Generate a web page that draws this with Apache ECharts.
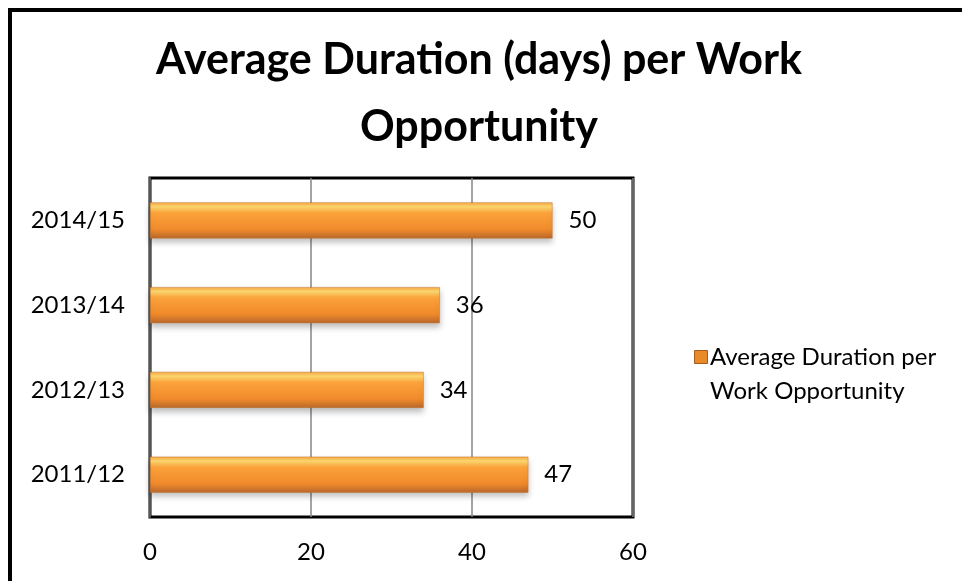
<!DOCTYPE html>
<html>
<head>
<meta charset="utf-8">
<script src="https://cdn.jsdelivr.net/npm/echarts@6/dist/echarts.min.js"></script>
<style>
  html, body { margin: 0; padding: 0; background: #fff; }
  #chart { width: 962px; height: 581px; }
</style>
</head>
<body>
<div id="chart"></div>
<script>
  // data
  var years = ['2011/12', '2012/13', '2013/14', '2014/15']
  var durations = [47, 34, 36, 50]
  var seriesName = 'Average Duration per Work Opportunity'
  var xTicks = [0, 20, 40, 60]

  var font = 'Lato'
  var chart = echarts.init(document.getElementById('chart'))

  var barColor = new echarts.graphic.LinearGradient(0, 0, 0, 1, [
    { offset: 0, color: '#f6a640' },
    { offset: 0.12, color: '#fdd870' },
    { offset: 0.3, color: '#fba23a' },
    { offset: 0.75, color: '#f08a2b' },
    { offset: 1, color: '#b9682c' }
  ])

  var option = {
    backgroundColor: '#fff',
    textStyle: { fontFamily: font },
    title: {
      text: 'Average Duration (days) per Work\nOpportunity',
      left: 474,
      top: 22,
      textAlign: 'center',
      textStyle: {
        fontFamily: font,
        fontWeight: 'bold',
        fontSize: 43,
        lineHeight: 67,
        color: '#000'
      }
    },
    graphic: [{
      // outer frame, runs off the right and bottom of the picture
      type: 'rect',
      shape: { x: 10, y: 10, width: 1000, height: 1000 },
      style: { fill: null, stroke: '#000', lineWidth: 4 },
      silent: true
    }],
    legend: [{
      // icon only, lined up with the first text line
      left: 689,
      top: 345,
      itemWidth: 13,
      itemHeight: 13,
      icon: 'rect',
      formatter: function () { return '' },
      data: [{ name: seriesName, itemStyle: { color: '#e98a2a', borderColor: '#a65a1e', borderWidth: 1 } }]
    }, {
      // text only, on two lines
      left: 700,
      top: 335,
      itemWidth: 0,
      itemHeight: 0,
      icon: 'none',
      formatter: function (name) {
        return name.replace(' per ', ' per\n')
      },
      textStyle: {
        fontFamily: font,
        fontSize: 24,
        lineHeight: 34,
        color: '#000'
      },
      data: [seriesName]
    }],
    grid: {
      left: 150,
      top: 178,
      right: 329,
      bottom: 64,
      show: true,
      borderColor: '#000',
      borderWidth: 3,
      containLabel: false
    },
    xAxis: {
      type: 'value',
      min: xTicks[0],
      max: xTicks[xTicks.length - 1],
      interval: 20,
      axisLine: { show: false },
      axisTick: { show: false },
      axisLabel: {
        color: '#000',
        fontSize: 24,
        fontFamily: font,
        margin: 23
      },
      splitLine: { show: true, lineStyle: { color: '#868686', width: 1.5 } }
    },
    yAxis: {
      type: 'category',
      data: years,
      axisLine: { show: true, lineStyle: { color: '#555', width: 2 } },
      axisTick: { show: false },
      axisLabel: {
        color: '#000',
        fontSize: 24,
        fontFamily: font,
        margin: 25
      }
    },
    series: [{
      name: seriesName,
      type: 'bar',
      data: durations,
      barWidth: 36,
      itemStyle: {
        color: barColor,
        borderColor: '#c4742f',
        borderWidth: 0.5,
        shadowColor: 'rgba(0,0,0,0.25)',
        shadowBlur: 6,
        shadowOffsetY: 4
      },
      label: {
        show: true,
        position: 'right',
        distance: 16,
        color: '#000',
        fontSize: 24,
        fontFamily: font
      }
    }]
  }

  chart.setOption(option)
</script>
</body>
</html>
